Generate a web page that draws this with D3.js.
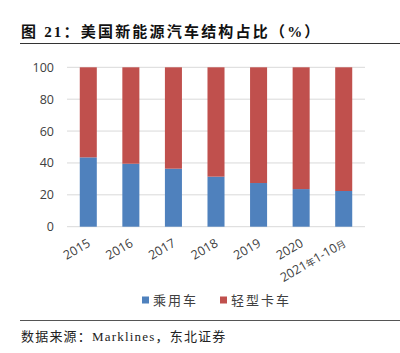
<!DOCTYPE html>
<html><head><meta charset="utf-8">
<script src="https://cdn.jsdelivr.net/npm/d3@7"></script>
<style>body{margin:0;background:#fff}svg{display:block}</style>
</head><body>
<svg id="c" width="400" height="353"></svg>
<script>
const categories = ["2015","2016","2017","2018","2019","2020","2021年1-10月"];
const passenger = [43.5, 39.5, 36.4, 31.4, 27.4, 23.6, 22.4];
const lightTruck = passenger.map(v => 100 - v);
const yTicks = [0,20,40,60,80,100];
const seriesNames = ["乘用车","轻型卡车"];
const colors = ["#4f81bd","#c0504d"];

const svg = d3.select("#c");
const x = d3.scaleBand().domain(categories).range([67, 365]).paddingInner(0.6).paddingOuter(0.3);
const y = d3.scaleLinear().domain([0,100]).range([226.7, 67.3]);

// title
svg.append("text").attr("x",21).attr("y",37)
  .attr("font-family","'Liberation Serif','Noto Sans CJK SC'").attr("font-weight","bold")
  .attr("font-size",15).attr("letter-spacing",2.2).attr("fill","#111")
  .text("图 21：美国新能源汽车结构占比（%）");
svg.append("line").attr("x1",20).attr("x2",400).attr("y1",43.5).attr("y2",43.5)
  .attr("stroke","#333").attr("stroke-width",1.2);

// grid
svg.append("g").selectAll("line").data(yTicks).join("line")
  .attr("x1",67).attr("x2",365).attr("y1",d=>y(d)).attr("y2",d=>y(d))
  .attr("stroke","#d9d9d9").attr("stroke-width",1);

// y axis
const ya = svg.append("g").attr("transform","translate(67,0)")
  .call(d3.axisLeft(y).tickValues(yTicks).tickSize(0).tickPadding(13));
ya.select(".domain").remove();
ya.selectAll("text").attr("font-family","'Open Sans'").attr("font-size",12.5).attr("fill","#404040");

// bars
const stackData = categories.map((c,i)=>({cat:c, a:passenger[i], b:lightTruck[i]}));
const stack = d3.stack().keys(["a","b"])(stackData);
svg.append("g").selectAll("g").data(stack).join("g").attr("fill",(d,i)=>colors[i])
  .selectAll("rect").data(d=>d).join("rect")
  .attr("x",d=>x(d.data.cat)).attr("width",x.bandwidth())
  .attr("y",d=>y(d[1])).attr("height",d=>y(d[0])-y(d[1]));

// x axis labels
const xa = svg.append("g").attr("transform","translate(0,226.7)")
  .call(d3.axisBottom(x).tickSize(0).tickPadding(0));
xa.select(".domain").remove();
xa.selectAll("text")
  .attr("font-family","'Open Sans','Noto Sans CJK SC'").attr("font-size",12.5).attr("fill","#404040")
  .attr("text-anchor","end").attr("dy",0)
  .attr("transform","translate(3,19) rotate(-30)")
  .each(function(d){
    const t = d3.select(this); t.text(null);
    d.split(/([年月])/).filter(s=>s.length).forEach(s=>{
      const sp = t.append("tspan").text(s);
      if (s==="年"||s==="月") sp.attr("font-size",9.5);
    });
  });

// legend
const lg = svg.append("g").attr("font-family","'Noto Sans CJK SC'").attr("font-size",13).attr("fill","#404040");
const lx = [142, 220];
seriesNames.forEach((n,i)=>{
  lg.append("rect").attr("x",lx[i]).attr("y",296.5).attr("width",7).attr("height",7).attr("fill",colors[i]);
  lg.append("text").attr("x",lx[i]+11).attr("y",305).attr("letter-spacing",2).text(n);
});

// footer
svg.append("line").attr("x1",20).attr("x2",400).attr("y1",320.5).attr("y2",320.5)
  .attr("stroke","#555").attr("stroke-width",1);
svg.append("text").attr("x",21).attr("y",341)
  .attr("font-family","'Liberation Serif','Noto Sans CJK SC'").attr("font-size",13).attr("fill","#222")
  .attr("letter-spacing",1.2)
  .text("数据来源：Marklines，东北证券");
</script>
</body></html>
